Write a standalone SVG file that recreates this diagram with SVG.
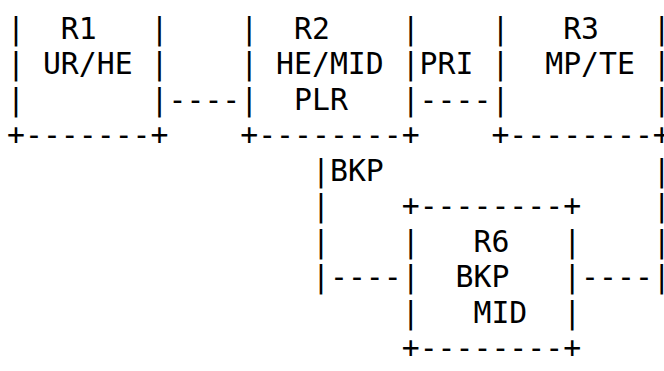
<svg xmlns="http://www.w3.org/2000/svg" width="664" height="371" viewBox="0 0 664 371" xml:space="preserve">
<style>
text { font-family: "DejaVu Sans Mono", "Liberation Mono", monospace; font-size: 29.8px; fill: #000; white-space: pre; }
</style>
<rect width="664" height="371" fill="#fff"/>
<g id="R1">
<text x="7" y="38.5">|  R1   |</text>
<text x="7" y="74">| UR/HE |</text>
<text x="7" y="109.5">|       |</text>
<text x="7" y="145">+-------+</text>
</g>
<g id="R2">
<text x="240.2" y="38.5">|  R2    |</text>
<text x="240.2" y="74">| HE/MID |</text>
<text x="240.2" y="109.5">|  PLR   |</text>
<text x="240.2" y="145">+--------+</text>
</g>
<g id="R3">
<text x="491.4" y="38.5">|   R3   |</text>
<text x="491.4" y="74">|  MP/TE |</text>
<text x="491.4" y="109.5">|        |</text>
<text x="491.4" y="145">+--------+</text>
</g>
<g id="R6">
<text x="401.7" y="216">+--------+</text>
<text x="401.7" y="251.5">|   R6   |</text>
<text x="401.7" y="287">|  BKP   |</text>
<text x="401.7" y="322.5">|   MID  |</text>
<text x="401.7" y="358">+--------+</text>
</g>
<g id="connectors">
<text x="168.5" y="109.5">----</text>
<text x="419.6" y="109.5">----</text>
<text x="419.6" y="74">PRI</text>
<text x="312" y="180.5">|BKP</text>
<text x="312" y="216">|</text>
<text x="312" y="251.5">|</text>
<text x="312" y="287">|----</text>
<text x="581.1" y="287">----</text>
<text x="652.8" y="180.5">|</text>
<text x="652.8" y="216">|</text>
<text x="652.8" y="251.5">|</text>
<text x="652.8" y="287">|</text>
</g>
</svg>
